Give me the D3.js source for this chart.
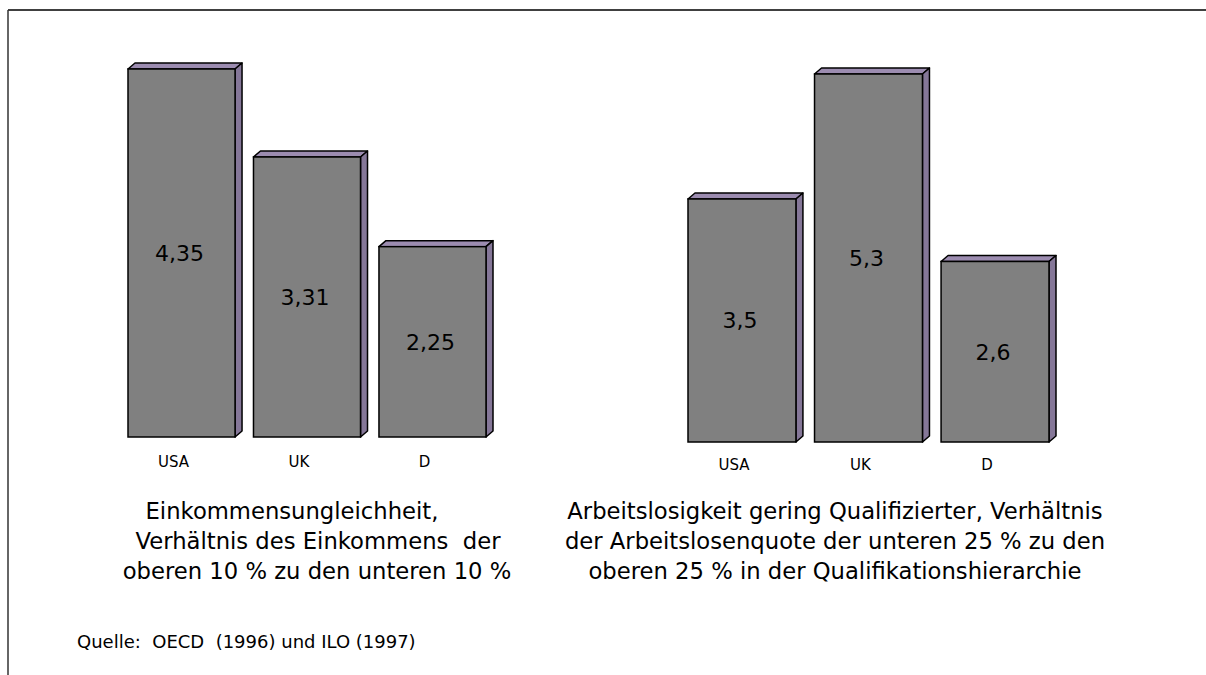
<!DOCTYPE html>
<html>
<head>
<meta charset="utf-8">
<script src="https://cdn.jsdelivr.net/npm/d3@7"></script>
<style>
  html, body { margin: 0; padding: 0; background: #fff; }
  svg { display: block; font-family: "DejaVu Sans", "Open Sans", sans-serif; }
</style>
</head>
<body>
<svg id="chart" width="1206" height="675"></svg>
<script>
// ---- data ----
const categories = ["USA", "UK", "D"];
const incomeRatio = [4.35, 3.31, 2.25];
const incomeLabels = ["4,35", "3,31", "2,25"];
const unemploymentRatio = [3.5, 5.3, 2.6];
const unemploymentLabels = ["3,5", "5,3", "2,6"];
const leftTitle = ["Einkommensungleichheit,", "Verhältnis des Einkommens  der", "oberen 10 % zu den unteren 10 %"];
const rightTitle = ["Arbeitslosigkeit gering Qualifizierter, Verhältnis", "der Arbeitslosenquote der unteren 25 % zu den", "oberen 25 % in der Qualifikationshierarchie"];
const sourceText = "Quelle:  OECD  (1996) und ILO (1997)";

const svg = d3.select("#chart");

// frame (top and left edge)
svg.append("line").attr("x1", 8).attr("y1", 10).attr("x2", 1206).attr("y2", 10)
  .attr("stroke", "#000").attr("stroke-width", 1.5);
svg.append("line").attr("x1", 8).attr("y1", 10).attr("x2", 8).attr("y2", 675)
  .attr("stroke", "#333").attr("stroke-width", 1.5);

const DX = 7, DY = 6;

function drawPanel(opts) {
  const g = svg.append("g");
  const x = d3.scaleBand().domain(categories).range(opts.xRange).paddingInner(0.147).paddingOuter(0);
  const y = d3.scaleLinear().domain([0, d3.max(opts.values)]).range([opts.baseline, opts.baseline - 368]);
  const data = categories.map((c, i) => ({ c, v: opts.values[i], label: opts.labels[i] }));

  const bars = g.selectAll("g.bar").data(data).join("g").attr("class", "bar");
  // top face
  bars.append("path")
    .attr("d", d => {
      const x0 = x(d.c), x1 = x(d.c) + x.bandwidth(), yt = y(d.v);
      return `M${x0},${yt}L${x0 + DX},${yt - DY}L${x1 + DX},${yt - DY}L${x1},${yt}Z`;
    })
    .attr("fill", "#9c8cb0").attr("stroke", "#000").attr("stroke-width", 1.5).attr("stroke-linejoin", "round");
  // side face
  bars.append("path")
    .attr("d", d => {
      const x1 = x(d.c) + x.bandwidth(), yt = y(d.v), yb = y(0);
      return `M${x1},${yt}L${x1 + DX},${yt - DY}L${x1 + DX},${yb - DY}L${x1},${yb}Z`;
    })
    .attr("fill", "#857798").attr("stroke", "#000").attr("stroke-width", 1.5).attr("stroke-linejoin", "round");
  // front face
  bars.append("rect")
    .attr("x", d => x(d.c)).attr("y", d => y(d.v))
    .attr("width", x.bandwidth()).attr("height", d => y(0) - y(d.v))
    .attr("fill", "#808080").attr("stroke", "#000").attr("stroke-width", 1.5);
  // value labels
  bars.append("text")
    .attr("x", d => x(d.c) + x.bandwidth() / 2 - 2)
    .attr("y", d => (y(d.v) + y(0)) / 2)
    .attr("dy", "0.36em")
    .attr("text-anchor", "middle")
    .attr("font-size", 22).attr("fill", "#000")
    .text(d => d.label);
  // category labels
  g.selectAll("text.cat").data(categories).join("text").attr("class", "cat")
    .attr("x", d => x(d) + x.bandwidth() / 2 - 8)
    .attr("y", opts.catY)
    .attr("text-anchor", "middle")
    .attr("font-size", 15).attr("fill", "#000")
    .text(d => d);
  // title
  g.selectAll("text.title").data(opts.title).join("text").attr("class", "title")
    .attr("x", (d, i) => opts.titleX[i])
    .attr("y", (d, i) => 519 + i * 30)
    .attr("text-anchor", "middle")
    .attr("font-size", 22.7).attr("fill", "#000")
    .style("white-space", "pre")
    .text(d => d);
}

drawPanel({ values: incomeRatio, labels: incomeLabels, xRange: [128, 486], baseline: 437, catY: 467,
  title: leftTitle, titleX: [292, 318, 317] });
drawPanel({ values: unemploymentRatio, labels: unemploymentLabels, xRange: [688, 1049], baseline: 442, catY: 470,
  title: rightTitle, titleX: [835, 835, 835] });

svg.append("text").attr("x", 77).attr("y", 648)
  .attr("font-size", 18).attr("fill", "#000")
  .style("white-space", "pre")
  .text(sourceText);
</script>
</body>
</html>
